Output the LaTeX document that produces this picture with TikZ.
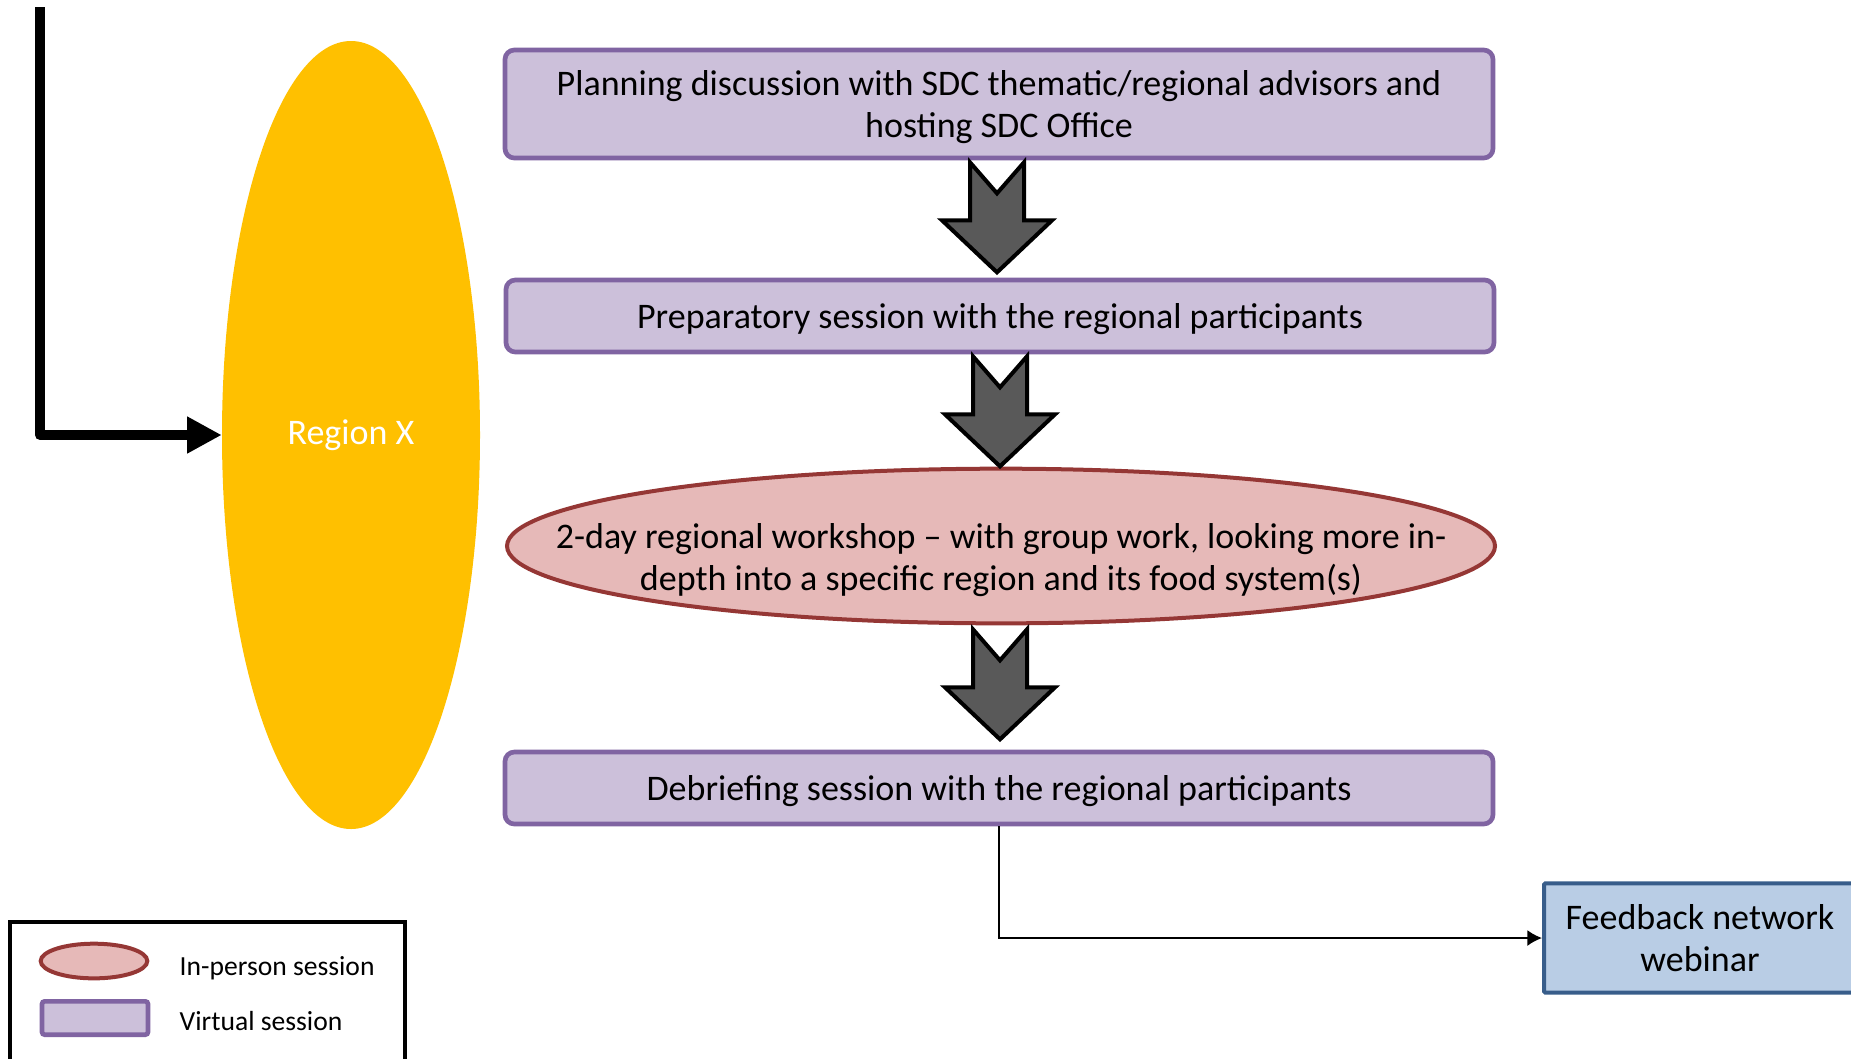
\documentclass[tikz,border=0pt]{standalone}
\usepackage{fontspec}
\setmainfont{Carlito}
\usetikzlibrary{shapes.geometric,arrows.meta}

\definecolor{virtfill}{HTML}{CCC0DA}
\definecolor{virtline}{HTML}{8064A2}
\definecolor{persfill}{HTML}{E6B9B8}
\definecolor{persline}{HTML}{953735}
\definecolor{regionyellow}{HTML}{FFC000}
\definecolor{arrowgray}{HTML}{595959}
\definecolor{webfill}{HTML}{B9CDE5}
\definecolor{webline}{HTML}{385D8A}

\newcommand{\mainsize}{\fontsize{27}{32}\selectfont}
\newcommand{\legendsize}{\fontsize{20.7}{24}\selectfont}

\tikzset{
  virtual/.style={draw=virtline, fill=virtfill, line width=3.5pt, rounded corners=7pt,
    minimum width=741pt, align=center, font=\mainsize, inner sep=0pt, text depth=0pt},
  inperson/.style={ellipse, draw=persline, fill=persfill, line width=3pt, inner sep=0pt},
  blockarrow/.style={draw=black, fill=arrowgray, line width=3pt, line join=miter},
  pics/downarrow/.style={code={
    \draw[blockarrow] (-27,0) -- (0,31) -- (27,0) -- (27,58) -- (55,58)
      -- (0,110) -- (-55,58) -- (-27,58) -- cycle;}}
}

\begin{document}
\begin{tikzpicture}[x=0.75pt, y=-0.75pt]
\clip (0,0) rectangle (1851,1058);

% region and incoming arrow
\node[ellipse, fill=regionyellow, minimum width=193.5pt, minimum height=591pt, inner sep=0pt,
  text=white, font=\mainsize] (region) at (351,435) {Region X};
\coordinate (feedin) at (40,7);
\draw[line width=7.5pt, line join=round, -{Triangle[length=26pt,width=26pt]}] (feedin) |- (region.west);

% the four steps
\node[virtual, minimum height=81pt] (plan) at (999,104)
  {Planning discussion with SDC thematic/regional advisors and\\hosting SDC Office};
\node[virtual, minimum height=54pt] (prep) at (1000,316)
  {Preparatory session with the regional participants};
\node[inperson, minimum width=741pt, minimum height=116pt] (workshop) at (1001,546) {};
\node[align=center, font=\mainsize] (workshoptext) at (1001,560)
  {2-day regional workshop -- with group work, looking more in-\\depth into a specific region and its food system(s)};
\node[virtual, minimum height=54pt] (debrief) at (999,788)
  {Debriefing session with the regional participants};

\path (plan.south) ++(-2,2) pic {downarrow};
\path (prep.south) ++(0,2) pic {downarrow};
\path (workshop.south) ++(-1,4) pic {downarrow};

% webinar
\node[draw=webline, fill=webfill, line width=3pt, rounded corners=1pt, minimum width=234pt,
  minimum height=82pt, align=center, font=\mainsize, inner sep=0pt] (webinar) at (1700,938)
  {Feedback network\\webinar};
\draw[line width=1.3pt, -{Latex[length=11pt,width=12pt]}] (debrief.south) |- (webinar.west);

% legend
\draw[line width=3pt] (10,922) rectangle (405,1075);
\node[inperson, minimum width=80pt, minimum height=26pt] (legin) at (94,961) {};
\node[virtual, rounded corners=2pt, minimum width=79.5pt, minimum height=25pt] (legvirt) at (95,1018) {};
\node[anchor=west, font=\legendsize] (legintext) at (175,968) {In-person session};
\node[anchor=west, font=\legendsize] (legvirttext) at (175,1021) {Virtual session};

\end{tikzpicture}
\end{document}
